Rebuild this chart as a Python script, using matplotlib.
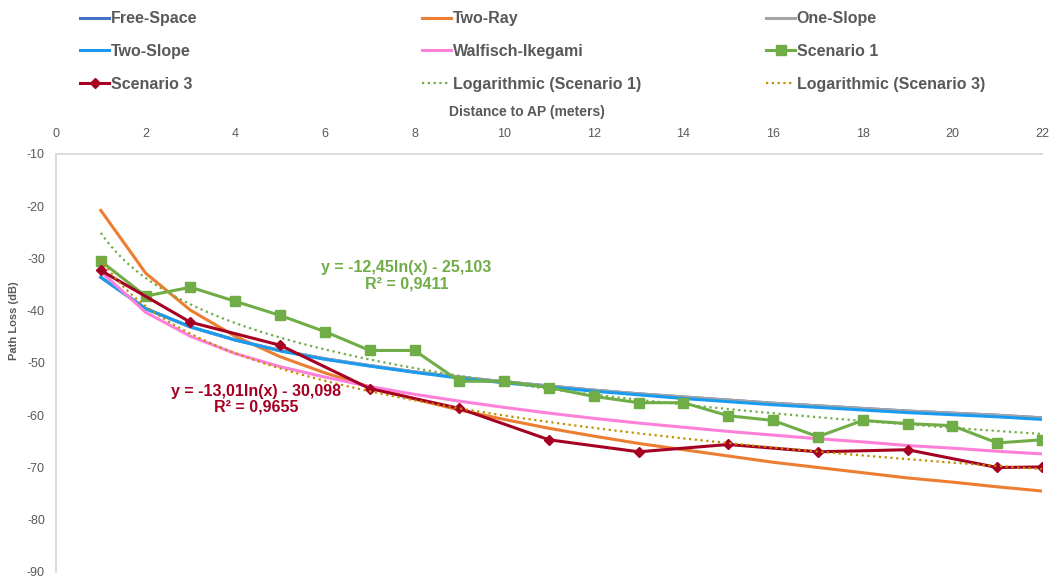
import matplotlib
matplotlib.use("Agg")
import matplotlib.pyplot as plt
import numpy as np

plt.rcParams['font.family'] = ['Liberation Sans', 'DejaVu Sans']
plt.rcParams['axes.unicode_minus'] = False

# distances (m)
dist = list(range(1, 23))

free_space = [-33.6, -39.6, -43.1, -45.6, -47.6, -49.2, -50.5, -51.7, -52.7, -53.6, -54.4,
              -55.2, -55.9, -56.5, -57.1, -57.7, -58.2, -58.7, -59.2, -59.6, -60.0, -60.5]
two_ray = [-20.8, -32.8, -39.9, -44.9, -48.8, -51.9, -54.6, -56.9, -59.0, -60.8, -62.5,
           -64.0, -65.4, -66.6, -67.8, -69.0, -70.0, -71.0, -72.0, -72.8, -73.7, -74.5]
one_slope = [-33.6, -39.6, -43.1, -45.6, -47.6, -49.2, -50.5, -51.7, -52.7, -53.6, -54.4,
             -55.2, -55.9, -56.5, -57.1, -57.7, -58.2, -58.7, -59.2, -59.6, -60.0, -60.5]
two_slope = [-33.6, -39.6, -43.1, -45.6, -47.7, -49.3, -50.6, -51.8, -52.9, -53.8, -54.6,
             -55.4, -56.1, -56.8, -57.4, -58.0, -58.5, -59.0, -59.5, -59.9, -60.3, -60.8]
walfisch = [-32.5, -40.3, -44.9, -48.2, -50.7, -52.7, -54.5, -56.0, -57.3, -58.5, -59.6,
            -60.6, -61.5, -62.3, -63.1, -63.8, -64.5, -65.1, -65.8, -66.3, -66.9, -67.4]

scen1 = [-30.5, -37.2, -35.5, -38.2, -40.9, -44.0, -47.6, -47.6, -53.5, -53.5, -54.7,
         -56.4, -57.6, -57.6, -60.1, -61.0, -64.1, -61.0, -61.6, -62.0, -65.3, -64.7]
scen3_x = [1, 3, 5, 7, 9, 11, 13, 15, 17, 19, 21, 22]
scen3 = [-32.3, -42.2, -46.6, -54.9, -58.7, -64.7, -67.0, -65.6, -67.0, -66.6, -70.0, -69.9]

# trendline coefficients (y = a*ln(x) + b), as printed on the chart
fit1 = (-12.45, -25.103)
fit3 = (-13.01, -30.098)

text_gray = "#595959"

fig = plt.figure(figsize=(10.53, 5.81), dpi=100)
ax = fig.add_axes([0.0532, 0.0155, 0.9364, 0.7195])

ax.plot(dist, free_space, color="#4472C4", lw=2.2, label="Free-Space")
ax.plot(dist, two_ray, color="#ED7D31", lw=2.2, label="Two-Ray")
ax.plot(dist, one_slope, color="#A5A5A5", lw=2.2, label="One-Slope")
ax.plot(dist, two_slope, color="#1A9BF0", lw=2.2, label="Two-Slope")
ax.plot(dist, walfisch, color="#FF80D8", lw=2.2, label="Walfisch-Ikegami")
ax.plot(dist, scen1, color="#70AD47", lw=2.2, marker="s", ms=6.5, label="Scenario 1")
ax.plot(scen3_x, scen3, color="#A50021", lw=2.2, marker="D", ms=5, label="Scenario 3")

xs = np.linspace(1, 22, 200)
ax.plot(xs, fit1[0] * np.log(xs) + fit1[1], color="#70AD47", lw=1.6,
        ls=(0, (1, 1.6)), label="Logarithmic (Scenario 1)")
ax.plot(xs, fit3[0] * np.log(xs) + fit3[1], color="#BF9000", lw=1.6,
        ls=(0, (1, 1.6)), label="Logarithmic (Scenario 3)")

ax.text(7.82, -33.3, "y = -12,45ln(x) - 25,103\nR² = 0,9411", color="#70AD47",
        fontsize=11.5, fontweight="bold", ha="center", va="center", linespacing=1.05)
ax.text(4.47, -56.9, "y = -13,01ln(x) - 30,098\nR² = 0,9655", color="#A50021",
        fontsize=11.5, fontweight="bold", ha="center", va="center", linespacing=1.05)

ax.set_xlim(0, 22)
ax.set_ylim(-90, -10)
ax.set_xticks(range(0, 23, 2))
ax.set_yticks(range(-90, 0, 10))
ax.xaxis.tick_top()
ax.tick_params(length=0, labelsize=9, labelcolor=text_gray)
ax.tick_params(axis="x", pad=10)
ax.tick_params(axis="y", pad=8)
for s in ["right", "bottom"]:
    ax.spines[s].set_visible(False)
for s in ["left", "top"]:
    ax.spines[s].set_color("#D9D9D9")
    ax.spines[s].set_linewidth(1.3)

fig.text(527 / 1053, 1 - 112 / 581, "Distance to AP (meters)", color=text_gray,
         fontsize=10, fontweight="bold", ha="center", va="center")
fig.text(14 / 1053, 1 - 321 / 581, "Path Loss (dB)", color=text_gray,
         fontsize=8, fontweight="bold", ha="center", va="center", rotation=90)

# legend: three columns placed by hand, rows read left to right
handles, labels = ax.get_legend_handles_labels()
col_x = [66, 408, 752]
for c in range(3):
    idx = [c, c + 3, c + 6]
    fig.legend([handles[i] for i in idx], [labels[i] for i in idx],
               loc="upper left", bbox_to_anchor=(col_x[c] / 1053, 1 + 3 / 581),
               frameon=False, handlelength=1.8, handletextpad=0.1,
               labelspacing=1.1, labelcolor=text_gray,
               prop={"weight": "bold", "size": 11.5})

fig.savefig("out.png", dpi=100)
